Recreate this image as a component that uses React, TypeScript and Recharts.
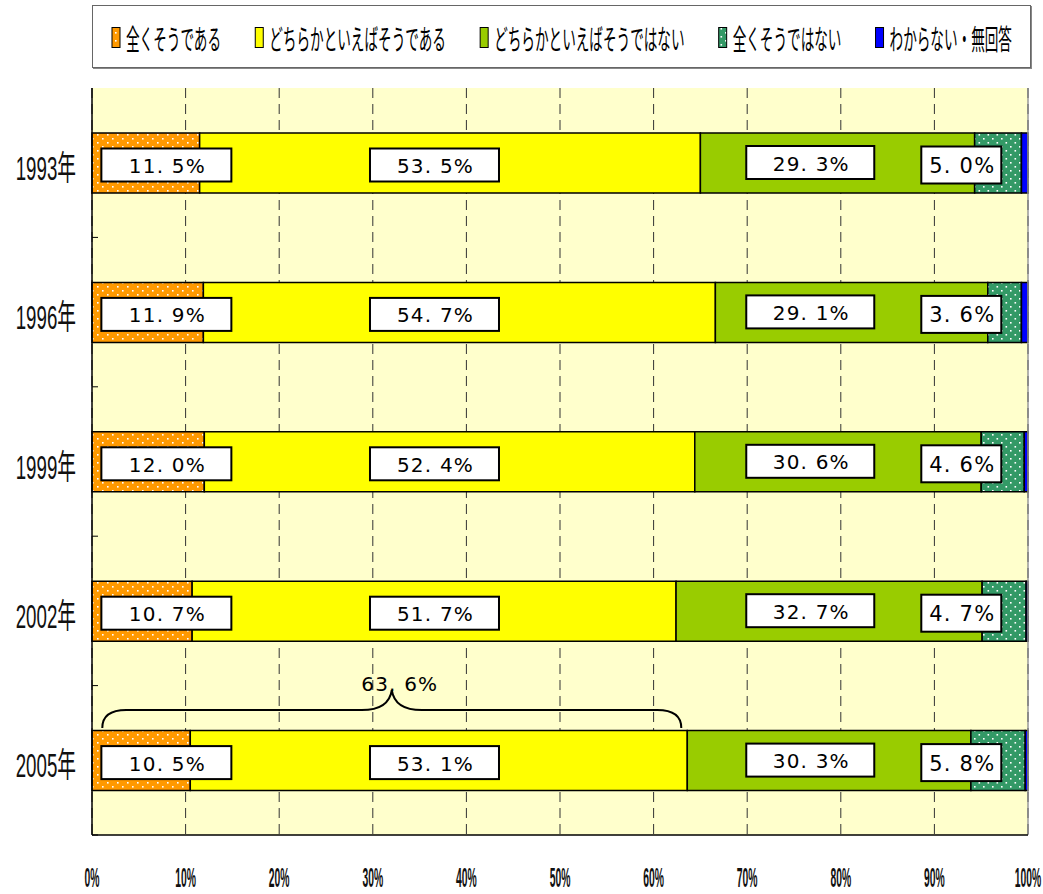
import React from 'react';
import {
  BarChart,
  Bar,
  XAxis,
  YAxis,
  CartesianGrid,
  LabelList,
  ReferenceLine,
} from 'recharts';

const years = ['1993年', '1996年', '1999年', '2002年', '2005年'];
const zenkuSou = [11.5, 11.9, 12.0, 10.7, 10.5];
const dochiraSou = [53.5, 54.7, 52.4, 51.7, 53.1];
const dochiraNot = [29.3, 29.1, 30.6, 32.7, 30.3];
const zenkuNot = [5.0, 3.6, 4.6, 4.7, 5.8];
const wakaranai = [0.7, 0.7, 0.4, 0.2, 0.3];
const seriesNames = [
  '全くそうである',
  'どちらかといえばそうである',
  'どちらかといえばそうではない',
  '全くそうではない',
  'わからない・無回答',
];
const xTicks = [0, 10, 20, 30, 40, 50, 60, 70, 80, 90, 100];

const FILLS = ['url(#dotOrange)', '#FFFF00', '#99CC00', 'url(#dotTeal)', '#0000FF'];
const KEYS = ['s0', 's1', 's2', 's3', 's4'];

const data = years.map((year, i) => ({
  year,
  s0: zenkuSou[i],
  s1: dochiraSou[i],
  s2: dochiraNot[i],
  s3: zenkuNot[i],
  s4: wakaranai[i],
}));

const PLOT_TOP = 88;
const PLOT_BOTTOM = 835;
const BAND = (PLOT_BOTTOM - PLOT_TOP) / years.length;

// where each value box sits (percent along the axis) and its size
const BOX = [
  { at: 1.0, w: 130, h: 33, dy: 14, fs: 20 },
  { at: 29.7, w: 129, h: 33, dy: 14, fs: 20 },
  { at: 69.9, w: 128, h: 33, dy: 11.5, fs: 20 },
  { at: 88.6, w: 80, h: 37, dy: 12, fs: 21 },
];

const fmt = (v: number) => v.toFixed(1).replace('.', '. ') + '%';

// drawn from the 4th series so the boxes sit above the earlier segments
const renderRowLabels = (props: any) => {
  const vb = props.viewBox ?? {};
  const x = Number(props.x ?? vb.x);
  const y = Number(props.y ?? vb.y) + 1.5;
  const width = Number(props.width ?? vb.width);
  const i = props.index;
  if (i == null || !isFinite(x) || !isFinite(width)) return null;
  const rows = [zenkuSou, dochiraSou, dochiraNot, zenkuNot];
  const before = zenkuSou[i] + dochiraSou[i] + dochiraNot[i];
  const pxPer = width / zenkuNot[i];
  const origin = x - before * pxPer;

  const boxes = BOX.map((b, k) => {
    const bx = origin + b.at * pxPer;
    const by = y + b.dy;
    return (
      <g key={k}>
        <rect x={bx} y={by} width={b.w} height={b.h} fill="#fff" stroke="#000" strokeWidth={2} />
        <text
          x={bx + b.w / 2 + 1}
          y={by + b.h / 2 + 1}
          textAnchor="middle"
          dominantBaseline="central"
          fontFamily="'DejaVu Sans', sans-serif"
          fontSize={b.fs}
          letterSpacing={1.2}
          fill="#000"
        >
          {fmt(rows[k][i])}
        </text>
      </g>
    );
  });

  let brace = null;
  if (i === years.length - 1) {
    const L = origin + 1.1 * pxPer;
    const R = origin + (zenkuSou[i] + dochiraSou[i]) * pxPer - 6;
    const cx = (L + R) / 2;
    const yb = y - 4;
    const ym = y - 22;
    const yc = y - 42;
    const d = `M${L},${yb} Q${L},${ym} ${L + 24},${ym} L${cx - 30},${ym} Q${cx - 3},${ym} ${cx},${yc} Q${cx + 3},${ym} ${cx + 30},${ym} L${R - 24},${ym} Q${R},${ym} ${R},${yb}`;
    brace = (
      <g>
        <path d={d} fill="none" stroke="#000" strokeWidth={2} />
        <text
          x={cx + 8}
          y={yc + 1}
          textAnchor="middle"
          fontFamily="'DejaVu Sans', sans-serif"
          fontSize={20}
          letterSpacing={1.2}
          fill="#000"
        >
          {fmt(zenkuSou[i] + dochiraSou[i])}
        </text>
      </g>
    );
  }

  return (
    <g>
      {boxes}
      {brace}
    </g>
  );
};

const XTick = (p: any) => (
  <g transform={`translate(${p.x},${p.y + 52}) scale(0.37,1)`}>
    <text
      textAnchor="middle"
      fontFamily="'Liberation Sans', Arial, sans-serif"
      fontWeight="bold"
      fontSize={28}
      fill="#111"
    >
      {p.payload.value}%
    </text>
  </g>
);

const YTick = (p: any) => (
  <g>
    <line x1={p.x} x2={p.x + 6} y1={p.y + BAND / 2} y2={p.y + BAND / 2} stroke="#000" strokeWidth={1} />
    <g transform={`translate(${p.x - 16},${p.y + 17}) scale(0.55,1)`}>
      <text
        textAnchor="end"
        fontFamily="'Liberation Sans', 'Noto Sans CJK JP', sans-serif"
        fontSize={34}
        fill="#111"
      >
        {p.payload.value}
      </text>
    </g>
  </g>
);

function LegendBox() {
  const fs = 28;
  const sx = 0.486;
  let cx = 19;
  const items = seriesNames.map((name, k) => {
    const left = cx;
    const tx = left + 14;
    const tw = name.length * fs * sx;
    cx = tx + tw + 34;
    return (
      <g key={k}>
        <rect x={left} y={21.5} width={8} height={20} fill={FILLS[k]} stroke="#000" strokeWidth={1} />
        <g transform={`translate(${tx},31) scale(${sx},1)`}>
          <text
            dominantBaseline="central"
            fontFamily="'Noto Sans CJK JP', sans-serif"
            fontSize={fs}
            fill="#000"
          >
            {name}
          </text>
        </g>
      </g>
    );
  });
  return (
    <div
      style={{
        position: 'absolute',
        left: 92,
        top: 5,
        width: 937,
        height: 61,
        background: '#fff',
        border: '1px solid #666',
        boxShadow: '1px 1px 0 #888',
      }}
    >
      <svg width={937} height={61}>
        {items}
      </svg>
    </div>
  );
}

export default function App() {
  return (
    <div style={{ position: 'absolute', left: 0, top: 0, width: 1043, height: 894, background: '#fff' }}>
      <svg width={0} height={0} style={{ position: 'absolute' }}>
        <defs>
          <pattern id="dotOrange" width={10} height={8} patternUnits="userSpaceOnUse">
            <rect width={10} height={8} fill="#FF9900" />
            <rect x={2} y={2} width={1.6} height={1.6} fill="#fff" />
            <rect x={7} y={6} width={1.6} height={1.6} fill="#fff" />
          </pattern>
          <pattern id="dotTeal" width={9} height={8} patternUnits="userSpaceOnUse">
            <rect width={9} height={8} fill="#339966" />
            <rect x={2} y={2} width={1.6} height={1.6} fill="#fff" />
            <rect x={6.5} y={6} width={1.6} height={1.6} fill="#fff" />
          </pattern>
        </defs>
      </svg>
      <LegendBox />
      <BarChart
        width={1043}
        height={894}
        data={data}
        layout="vertical"
        margin={{ top: PLOT_TOP, right: 15, bottom: 0, left: 0 }}
        barSize={60}
      >
        <CartesianGrid
          horizontal={false}
          fill="#FFFFCC"
          stroke="#333"
          strokeDasharray="10 6"
        />
        <XAxis
          type="number"
          domain={[0, 100]}
          ticks={xTicks}
          interval={0}
          height={59}
          tickLine={false}
          tickSize={0}
          tickMargin={0}
          axisLine={{ stroke: '#000', strokeWidth: 1.5 }}
          tick={<XTick />}
        />
        <YAxis
          type="category"
          dataKey="year"
          width={92}
          tickLine={false}
          tickSize={0}
          tickMargin={0}
          axisLine={{ stroke: '#000', strokeWidth: 1.5 }}
          tick={<YTick />}
        />
        <ReferenceLine x={100} stroke="#999" strokeWidth={1.5} />
        {KEYS.map((k, idx) => (
          <Bar
            key={k}
            dataKey={k}
            name={seriesNames[idx]}
            stackId="a"
            fill={FILLS[idx]}
            stroke="#000"
            strokeWidth={1.5}
            isAnimationActive={false}
          >
            {idx === 3 && <LabelList dataKey={k} content={renderRowLabels} />}
          </Bar>
        ))}
      </BarChart>
    </div>
  );
}
